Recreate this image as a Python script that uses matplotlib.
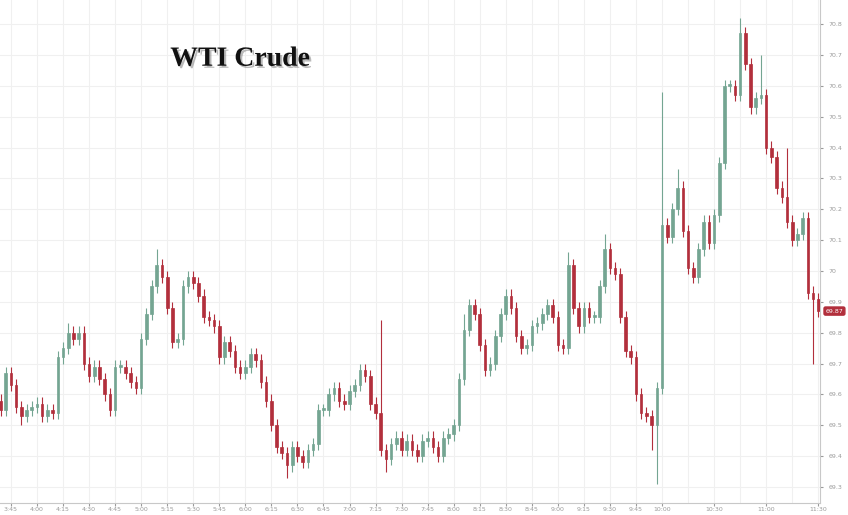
import matplotlib
matplotlib.use("Agg")
import matplotlib.pyplot as plt
import matplotlib.patheffects as pe
import numpy as np

# 3-minute candles, first one at 3:39, last one at 11:30
start_minute = 3 * 60 + 39
bar_minutes = 3

closes = [
    69.55, 69.67, 69.63, 69.56, 69.53, 69.55, 69.56, 69.57, 69.53, 69.55,
    69.54, 69.72, 69.75, 69.80, 69.78, 69.80, 69.70, 69.66, 69.69, 69.65,
    69.60, 69.55, 69.69, 69.69, 69.67, 69.64, 69.62, 69.78, 69.86, 69.95,
    70.02, 69.98, 69.88, 69.77, 69.78, 69.95, 69.98, 69.96, 69.92, 69.85,
    69.84, 69.82, 69.72, 69.77, 69.74, 69.69, 69.67, 69.69, 69.73, 69.71,
    69.64, 69.58, 69.50, 69.43, 69.41, 69.37, 69.43, 69.40, 69.38, 69.42,
    69.44, 69.55, 69.55, 69.60, 69.62, 69.58, 69.57, 69.61, 69.63, 69.68,
    69.66, 69.57, 69.54, 69.42, 69.39, 69.44, 69.46, 69.42, 69.45, 69.42,
    69.40, 69.45, 69.46, 69.43, 69.40, 69.46, 69.47, 69.50, 69.65, 69.81,
    69.89, 69.86, 69.76, 69.68, 69.70, 69.79, 69.86, 69.92, 69.88, 69.79,
    69.75, 69.76, 69.82, 69.83, 69.86, 69.89, 69.85, 69.76, 69.75, 70.02,
    69.88, 69.82, 69.88, 69.85, 69.85, 69.95, 70.07, 70.01, 69.99, 69.85,
    69.74, 69.72, 69.60, 69.54, 69.53, 69.50, 69.62, 70.15, 70.11, 70.20,
    70.27, 70.13, 70.01, 69.98, 70.07, 70.16, 70.09, 70.18, 70.35, 70.60,
    70.60, 70.57, 70.77, 70.67, 70.53, 70.56, 70.57, 70.40, 70.37, 70.27,
    70.24, 70.16, 70.10, 70.12, 70.17, 69.93, 69.91, 69.87,
]
first_open = 69.58

# long wicks that stand out in the picture (bar index -> price)
spike_highs = {13: 69.83, 30: 70.07, 73: 69.84, 89: 69.86, 109: 70.06, 116: 70.12,
               127: 70.58, 130: 70.33, 142: 70.82, 146: 70.70, 151: 70.40}
spike_lows = {4: 69.50, 55: 69.33, 74: 69.35, 125: 69.42, 126: 69.31, 156: 69.70}

y_ticks = [69.3, 69.4, 69.5, 69.6, 69.7, 69.8, 69.9, 70.0, 70.1, 70.2,
           70.3, 70.4, 70.5, 70.6, 70.7, 70.8]
y_labels = ["69.3", "69.4", "69.5", "69.6", "69.7", "69.8", "69.9", "70",
            "70.1", "70.2", "70.3", "70.4", "70.5", "70.6", "70.7", "70.8"]
x_labels = ["3:45", "4:00", "4:15", "4:30", "4:45", "5:00", "5:15", "5:30",
            "5:45", "6:00", "6:15", "6:30", "6:45", "7:00", "7:15", "7:30",
            "7:45", "8:00", "8:15", "8:30", "8:45", "9:00", "9:15", "9:30",
            "9:45", "10:00", "10:30", "11:00", "11:30"]
last_price = "69.87"

UP = "#74a592"
DOWN = "#b22f3c"


def to_minutes(label):
    h, m = label.split(":")
    return int(h) * 60 + int(m)


def main():
    fig = plt.figure(figsize=(8.48, 5.15), dpi=100)
    ax = fig.add_axes([0.0, 0.0233, 0.967, 0.9767])

    times = start_minute + bar_minutes * np.arange(len(closes))
    opens = [first_open] + closes[:-1]
    width = bar_minutes * 0.5

    for i, (t, o, c) in enumerate(zip(times, opens, closes)):
        color = UP if c >= o else DOWN
        hi = spike_highs.get(i, max(o, c) + 0.02)
        lo = spike_lows.get(i, min(o, c) - 0.02)
        ax.vlines(t, lo, hi, color=color, linewidth=0.8, zorder=2)
        body = max(abs(c - o), 0.006)
        ax.add_patch(plt.Rectangle((t - width / 2, min(o, c)), width, body,
                                   facecolor=color, edgecolor=color,
                                   linewidth=0.5, zorder=3))

    ax.set_xlim(218.7, 691)
    ax.set_ylim(69.248, 70.878)

    major = [to_minutes(s) for s in x_labels]
    ax.set_xticks(major)
    ax.set_xticklabels(x_labels)
    ax.set_xticks(np.arange(225, 691, 15), minor=True)
    ax.set_yticks(y_ticks)
    ax.set_yticklabels(y_labels)

    ax.grid(True, which="both", color="#f0f0f0", linewidth=0.8, zorder=0)
    ax.set_axisbelow(True)

    ax.yaxis.tick_right()
    ax.tick_params(axis="y", length=2, pad=4, labelsize=4.5, colors="#9a9a9a")
    ax.tick_params(axis="x", which="major", length=2, pad=1, labelsize=4.5,
                   colors="#9a9a9a")
    ax.tick_params(axis="x", which="minor", length=0)
    for side in ("top", "left"):
        ax.spines[side].set_visible(False)
    for side in ("right", "bottom"):
        ax.spines[side].set_color("#c8c8c8")
        ax.spines[side].set_linewidth(0.8)

    # last price box on the right axis
    ax.annotate(last_price, xy=(1.0, float(last_price)),
                xycoords=("axes fraction", "data"), xytext=(4, 0),
                textcoords="offset points", va="center", ha="left",
                fontsize=4.5, color="white",
                bbox=dict(boxstyle="round,pad=0.25", fc=DOWN, ec=DOWN))

    fig.text(0.283, 0.885, "WTI Crude", fontsize=20, fontweight="bold",
             family="Liberation Serif", ha="center", va="center", color="#111111",
             path_effects=[pe.withSimplePatchShadow(offset=(1.5, -1.5),
                                                    shadow_rgbFace="#777777",
                                                    alpha=0.5)])

    fig.savefig("out.png", dpi=100, facecolor="white")
    plt.close(fig)


if __name__ == "__main__":
    main()
